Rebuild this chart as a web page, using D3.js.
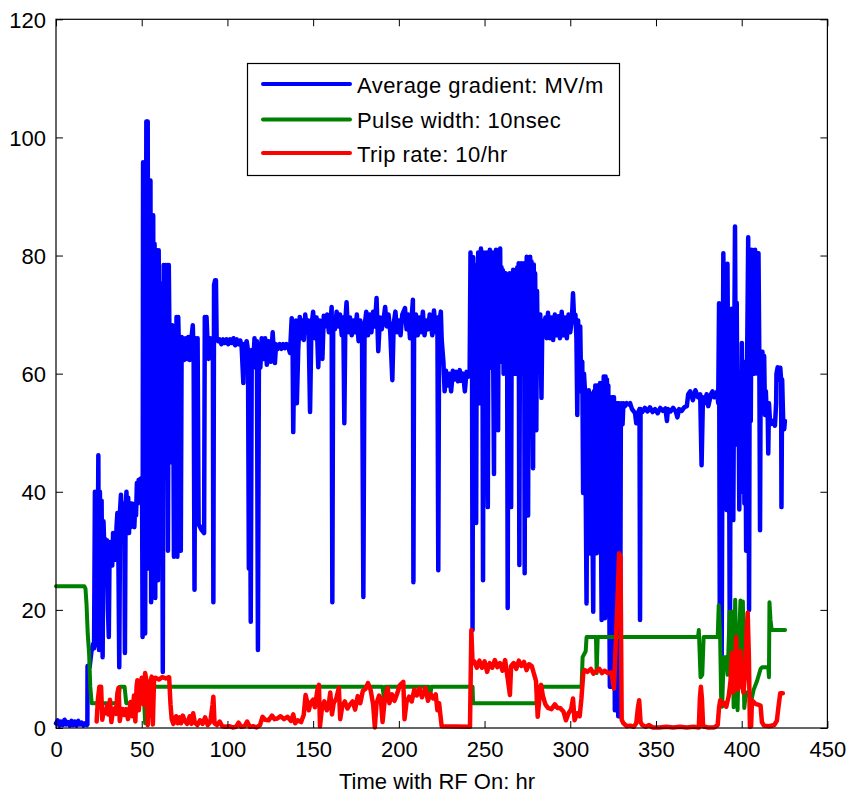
<!DOCTYPE html>
<html>
<head>
<meta charset="utf-8">
<script src="https://cdn.jsdelivr.net/npm/d3@7"></script>
<style>
  html, body { margin: 0; padding: 0; background: #fff; }
  svg { display: block; }
  text { font-family: "Liberation Sans", Arial, Helvetica, sans-serif; }
</style>
</head>
<body>
<svg id="chart" width="850" height="793"></svg>
<script>
// ---------------- data ----------------
const xTicks = [0, 50, 100, 150, 200, 250, 300, 350, 400, 450];
const yTicks = [0, 20, 40, 60, 80, 100, 120];
const xLabel = "Time with RF On: hr";
const seriesNames = ["Average gradient: MV/m", "Pulse width: 10nsec", "Trip rate: 10/hr"];
const seriesColors = ["#0000ff", "#008000", "#ff0000"];

// Average gradient [hr, MV/m]
const gradient = [
  [0,0.8],[1,1.3],[2,0.4],[3,1.1],[4,0.5],[5,1.4],[6,0.6],[7,1.0],[8,0.4],[9,1.2],[10,0.5],[11,1.1],[12,0.4],[13,1.2],[14,0.6],[15,0.9],[16,0.4],[17,0.8],[18,0.5],
  [18.3,0.6],[18.4,10.5],[19.6,10.3],[20.6,12.8],[21.6,14.2],[22.2,13.5],[22.7,40],[23.2,14],[23.7,35],[24.2,20],[24.7,46.2],[25.1,13.2],[25.6,40],[26.1,30],[26.6,38.5],[27.2,12],[27.7,35],[28.2,30.5],[28.7,32],[29.2,28],[29.7,31.8],[30.3,20],[30.8,15.4],[31.3,31.5],[31.8,29],[32.3,31],[32.8,27.5],[33.3,33],[33.8,29],[34.3,32.5],[34.8,28.5],[35.3,34],[35.8,36.4],[36.3,33],[36.9,10.3],[37.4,37],[37.9,39.5],[38.4,34],[38.9,38],[39.4,36],[39.9,33],[40.2,12.7],[40.6,37],[41.1,40],[41.6,35.5],[42.1,39],[42.6,33],[43.1,38],[43.6,34],[44.2,38],[44.7,35],[45.2,37.5],[45.7,34],[46.2,38],[46.7,36],[47.2,41.5],[47.7,38],[48.2,42],[48.7,40],[49.2,42.2],[49.7,41],[50.2,42],[50.5,15.4],
  [50.8,95.8],[51.2,40],[51.6,95.8],[52,16],[52.4,60],[52.7,102.7],[53.1,72],[53.5,102.7],[53.9,27],[54.3,92.7],[54.7,55],[55.1,92.7],[55.5,21.3],[55.9,86.8],[56.3,45],[56.7,86.8],[57.1,30],[57.5,82],[57.9,22],[58.3,77.8],[58.7,65.2],[59.1,80.9],[59.5,25],[59.9,80.9],[60.3,48],[60.7,75.3],[61.1,35],[61.5,75.3],[61.9,58.9],[62.3,9.5],[62.8,78.4],[63.3,44.8],[63.8,78.4],[64.3,55],[64.8,78.4],[65.3,30],[65.8,78.4],[66.3,62],[66.8,68.2],[67.3,45],[67.8,68.2],[68.3,63.4],[68.8,29],[69.3,63],[69.8,40],[70.3,69.6],[70.8,29],[71.3,69.6],[71.8,63],[72.3,66.2],[72.8,30],[73.3,66.2],[73.8,62.3],[74.3,66],[74.8,62.3],[75.3,63],[75.8,66],[76.5,62.5],[77.2,66.2],[78,62.3],[79,66],[79.8,68.2],[80.3,62.5],[80.8,23.4],[81.3,66],[82,62.3],[82.6,66],[83.2,34.5],[85,33.5],[86.4,33],[86.8,69.6],[87.3,67],[87.8,69.6],[88.3,66],[89,62.5],[89.8,66],[90.8,65.5],[91.5,66],[91.8,21.3],[92.2,75],[92.8,75.8],[93.3,75.8],[93.7,66],[94.5,65.5],
  [95.5,65.8],[96.5,65],[97.5,65.8],[98.5,65.2],[99.5,65.8],[100.5,65],[101.5,65.8],[102.5,65.2],[103.5,66],[104.5,64.8],[105.5,65.8],[106.5,65],[107.5,65.6],[108.3,64.5],[109.3,58.4],[109.8,65],[110.5,63],[111.2,65.5],[112,64],[112.5,27],[113,62],[113.6,18],[114.2,64],[115,61],[115.8,66],[116.5,62],[117.2,65.5],[117.8,13.2],[118.4,65],[119.2,61],[120,66],[121,62.5],[122,66],[123,61.5],[124,65.5],[125.3,62],[126.4,67],[127.2,63],[127.7,61.8],[128.4,65],[129.5,64.2],[130.5,65],[131.5,64.2],[132.5,65],[133.5,64.3],[134.5,65],[135.5,64.5],[136.5,63.5],[137.5,69.4],[138,65],[138.4,50.1],[139,65],[140,69],[140.5,55],[141.3,64],[142.2,69.6],[143,66],[143.8,69],[144.6,65.7],[145.4,70],[146.4,67],[147.3,69],[148.2,53.5],[149,68],[150,70.5],[151,66],[152,69.5],[153,61.1],[153.8,69],[154.6,67],[155.4,62.5],[156.2,69.8],[157.2,68],[158.2,70],[159.2,67],[160.2,69],[160.8,71.3],[161.2,21.3],[161.7,69],[162.7,67.5],[163.7,70.5],[164.7,68],[165.7,70],[166.7,66.5],[167.6,69.5],[168.2,51.6],[168.8,69],[169.5,72.1],[170.3,67],[171.5,69.5],[172.5,66.5],[173.5,69],[174.5,67],[175.5,70],[176.5,65.5],[177.5,69],[178.5,67.5],[179.3,22.2],[180,68],[181,70.5],[182,66.5],[183,70],[184,67],[185,70.5],[186,68],[187,72.8],[188,63.8],[189,69.5],[190,67.5],[191,69],[192,71.3],[193,68],[194,70],[195,67],[196.2,58.9],[197,68.5],[198,70.5],[199,67],[200,69],[201,66.5],[202,70],[203.6,71.1],[204.5,67.5],[205.5,70],[206.5,66],[207.5,69.5],[208.2,72.5],[208.5,24.7],[208.9,68],[210,70],[211,66.5],[212,69.5],[213,67],[214,70.5],[215,66.5],[216,69],[217,67.5],[218,70],[219.5,66.5],[220.5,70.7],[221.5,67],[222.5,69.5],[223,26.7],[223.5,68.5],[224.5,70.5],[225,65.7],[226,62],[226.7,57],[227.5,60.5],[228.5,58],[229.5,60],[230.5,57],[231.5,60.5],[232.5,59],[233.5,60.3],[234.5,58.7],[235.5,60.6],[236.5,58.8],[237.5,60],[238.5,57],[239.5,60.3],[240.5,59.5],[241.3,60],
  [241.8,80.5],[242.2,62],[242.6,79.7],[243,16.6],[243.4,79.7],[243.8,63],[244.2,78],[244.6,60],[245.1,34.7],[245.5,78.5],[245.9,62],[246.3,80.5],[246.7,65],[247.1,79],[247.5,55],[247.9,81.2],[248.3,62],[248.7,80],[249.1,25],[249.5,80.5],[249.9,64],[250.3,79],[250.7,61],[251.1,80.5],[251.5,50],[251.9,37.4],[252.3,79],[252.7,63],[253.1,81],[253.5,61],[253.9,79.5],[254.3,66],[254.7,80.5],[255.1,60],[255.5,43],[255.9,79],[256.3,64],[256.7,81],[257.1,62],[257.5,79.5],[257.9,50.4],[258.3,80],[258.7,65],[259.1,81.2],[259.5,62],[259.9,78],[260.3,67],[260.7,77.5],[261.1,60],[261.5,76.5],[261.9,64],[262.3,77],[262.7,62],[263.1,76],[263.5,20.3],[263.9,76.5],[264.3,63],[264.7,77],[265.1,61],[265.5,37.4],[265.9,76],[266.3,64],[266.7,77.6],[267.1,62],[267.5,77],[267.9,60],[268.3,77.6],[268.7,63],[269.1,78],[269.5,61],[269.9,78.7],[270.3,27.6],[270.7,78.5],[271.1,64],[271.5,78.7],[271.9,62],[272.3,78],[272.7,60],[273.1,78.7],[273.4,26.2],[273.8,78.5],[274.2,63],[274.6,79.8],[275,62],[275.4,36],[275.8,79.5],[276.2,61],[276.6,79.8],[277,64],[277.4,79],[277.8,62],[278.3,44],[278.7,78.5],[279.1,62],[279.5,77],[279.9,64],[280.2,50.4],[280.6,74],[281,65],[281.5,69.5],[282,66.5],[282.5,70],[283.2,55.9],[283.7,69],[284.5,66.5],[285.5,69.5],[286.2,66],[287,70.3],[288,66],[289,69.5],[290,65.7],[291,70],[292,66.5],[293,69.7],[294,66],[295,70.5],[296,66.5],[297,69.5],[298,66],[299,70],[300,67],[301,69.5],[301.6,73.6],[302.3,69],[303,70],[303.6,66],[304.1,53],[304.6,69],[305.2,58.7],[305.8,68],[306.4,57],[307,62],[307.5,39.8],[308,60],[308.6,57],[309.5,21.1],
  [310,56],[310.4,39.8],[310.8,57.2],[311.2,35],[311.6,56.7],[312,29.5],[312.4,56.5],[312.8,40],[313.4,19.7],[313.8,57],[314.2,30],[314.6,58],[315.4,29.6],[315.8,58],[316.2,45],[316.6,57],[317,34.7],[317.4,58.4],[317.8,38],[318.3,18.3],[318.7,58.4],[319.1,40],[319.5,59.5],[320.2,18.6],[320.6,59.5],[321,22.6],[321.4,59],[321.8,45],[322.2,58],[322.6,30],[323.1,7],[323.6,56],[324,22],[324.5,56],[325,7],[325.5,56],[326,3],[326.5,55],[327,25],[327.5,55],[328,2],[328.5,55],[329,2],[329.5,52],[330,55],[330.5,51.4],[331,55],[331.9,54.5],
  [332.9,55],[334,54.8],[334.9,55],[336,54],[337.8,53.3],[338.5,51.6],[339.7,53.5],[340.4,54],[340.7,18.3],[341,54],[342,53.5],[343.5,54.2],[345,53.6],[346.5,54.3],[348,53.5],[349.5,54],[351,53.3],[352.5,54.2],[354,53.7],[355.5,54.1],[356.4,52],[357,54],[358.5,53.6],[360,54.2],[361.5,53.6],[362.5,52.6],[363.5,54],[365,53.7],[366.5,54.3],[368,54.5],[368.8,56.5],[370,57],[371.5,55.5],[373,57.2],[374.5,56],[375.8,56.5],[376.6,44.5],[377.4,56],[378.5,55],[379.5,56.5],[380.5,54.5],[381.3,55.5],[382,56.5],[383,57],[384,56],[385,56.5],[385.8,57],
  [386.3,55],[386.8,71.9],[387.2,21.1],[387.7,60],[388.3,10],[388.8,50],[389.3,80.4],[389.8,60],[390.3,50],[390.8,67.9],[391.2,36.9],[391.7,78.6],[392.2,55],[392.7,45],[393.1,9.8],[393.6,60],[394.1,71],[394.6,45],[395.1,35.2],[395.6,62],[396.1,84.9],[396.6,55],[397.1,72],[397.6,48],[398.1,60],[398.6,37],[399.1,58],[399.6,45],[400.1,65.2],[400.6,40],[401.1,62],[401.6,38],[402.1,60],[402.6,30],[403.1,60],[403.8,83.1],[404.3,20],[404.8,80],[405.3,52],[405.8,81],[406.3,71],[406.8,80.4],[407.3,60],[407.8,81],[408.3,72],[408.8,80.4],[409.3,60],[409.8,80.4],[410.3,62],[410.7,33.5],[411.1,63],[411.6,60],[412.1,63.7],[412.6,55],[413.1,63],[413.6,53],[414.1,57],[414.6,52.9],[415.1,55],[415.5,46.5],[415.9,55],[416.5,52],[417.4,51.5],[418.4,52],[419.4,51.2],[420.1,55],[420.3,60],[421,61.1],[421.8,59],[422.5,61],[423,59],[423.2,37.4],[423.6,59],[424.2,52],[424.8,50.6],[425.2,52]
];

// Pulse width [hr, 10 nsec]
const pulseWidth = [
  [0,24],[16.5,24],[17.2,23.6],[17.8,21],[18.5,16],[19.3,12.7],[20,7],[20.8,4.2],[36.4,4.2],[37.2,7],[40,7],[41,4.2],[50,4.2],[51.5,4],[52,0.8],[53,0.8],[53.5,7],
  [190.5,7],[191.2,5.3],[192,7],[217.5,7],[218.2,5.3],[219,7],[243,7],[243.3,4.2],[280.4,4.2],[280.8,7],[306.6,7],[307.2,12],[309,13],[309.5,15.4],
  [315,15.4],[315.4,9.3],[316,15.4],[374.5,15.4],[375,16.6],[376,8.6],[377,9],[377.8,15.4],[386,15.4],
  [386.6,20.8],[387.4,16],[388,5.3],[388.6,3.6],[389.5,12],[391,12],[391.8,9],[393,19.7],[393.8,10],[394.5,19.7],[395.3,3.5],[396.2,21.7],[397,10],[397.6,3],[398.5,15],[399.3,21.6],[400,8],[400.7,21.4],[401.5,3.4],[402.5,6],[404,6],[405.5,4.5],[407,6.5],[409,8],[411,10],[412,10.3],[415.5,10.3],[415.9,8.6],[416.2,21.3],[416.8,18.3],[417.5,16.6],[425.3,16.6]
];

// Trip rate [hr, 10/hr]
const tripRate = [
  [23.7,1.1],[24.5,5],[25.3,7],[26.3,7],[27,1.4],[27.8,3],[28.8,2.5],[29.8,3.9],[30.5,2.3],[31.5,4.8],[32.3,1.0],[33,2.5],[34,3.3],[35,2.4],[35.8,5.9],[36.5,6.8],[37.2,1.2],[38,2.6],[39,3.2],[40,2.2],[41,3.2],[42,1.5],[42.8,2.8],[43.5,4.4],[44.5,2.0],[45.5,5.5],[46.3,1.1],[47,7],[47.5,8.1],[48.3,3],[49,6.5],[50,8.5],[51,4],[52,9.3],[52.8,8],[53.5,0.5],[54.3,5],[55,7.6],[55.8,8.7],[56.5,0.6],[57.2,8.4],[58,8.5],[60,8.2],[62,8.6],[64,8.4],[66,8.6],[66.8,4],[67.5,1.5],[68.5,0.7],[70,2],[71,0.8],[72,1.8],[73,0.8],[74,2.1],[75,1.3],[76.5,0.7],[78,2.0],[79,0.7],[80,2.5],[81,0.9],[82.5,0.5],[84,1.3],[85.5,0.7],[87,1.8],[88.5,0.5],[90,1],[91.3,3.9],[91.8,5.3],[92.5,0.8],[94,0.5],[95.5,1.1],[97,0.3],[99,0.2],[101,0.3],[103,0.1],[105,0.2],[106.5,0.9],[108,0.2],[110,0.3],[111.5,1.1],[113,0.2],[115,0.3],[117,0.1],[119,0.5],[120.5,1.9],[122,1.4],[124,1.3],[126,2.1],[127.5,1.5],[129,1.6],[131,2.0],[133,1.5],[135,1.9],[137,1.2],[138.4,2.3],[139.5,0.8],[141,1.3],[143,1.0],[144.5,2.2],[145.6,5.6],[146.5,4.5],[147.5,3],[148.5,4.3],[150,4.8],[151,3.5],[152.5,6.4],[153.4,7.3],[154,0.3],[155,3],[156.5,4.5],[158,3],[159,3.8],[160,6],[161,2.3],[162,4.2],[163.5,5],[165,6.8],[165.8,1.5],[167,3.7],[168.5,4.5],[170,3.3],[171.5,4.0],[173,4.5],[174.5,3.1],[176,5.4],[177.5,4.2],[179,6.3],[180.5,6.6],[182,7.6],[183.5,6.5],[185,4],[186,0.1],[187,4.2],[188.5,5.5],[189.5,4.9],[190.5,1.0],[191.5,4],[192.5,5.9],[193.5,6.8],[194.5,4.2],[196,5.7],[197.5,4.6],[199,5.8],[200.5,7.2],[202.6,7.8],[203.3,1.5],[204.5,4.4],[206,5.3],[207.5,4.5],[209,6.5],[210.5,5.5],[212,6.7],[213.5,5.2],[215.5,6.8],[217,4.6],[218.5,5.8],[220,5.0],[221.5,5.7],[222.5,3],[223.5,4.2],[224.2,2.3],[225,0.3],[241.5,0.2],
  [242.3,16.6],[243,11],[244,11.3],[245.5,10.2],[247,11.4],[248.5,10.2],[250,11.3],[251.5,9.5],[253,11.0],[254.5,10.2],[256,11.5],[257.5,10.3],[259,11],[260.5,9.7],[262,11.5],[263.5,8.4],[264.8,5.6],[265.5,10.5],[267,11],[268.5,10],[270,11.4],[271.5,10.5],[273,11.2],[274.5,9.8],[276,10.8],[277.5,10.5],[279,9],[280,8],[281,1.9],[282,5],[283,7.3],[284,5.5],[285.5,4],[287,3.4],[289,3.2],[291,4],[292.5,3.4],[294,3.4],[296,2.8],[297.5,1.3],[299,2.5],[300.5,3.2],[301.6,5],[302.5,1.3],[304,2.5],[305.5,2],[306.5,5],[307.6,9.3],[308.5,9.8],[310,9.5],[312,10],[313.5,9.2],[315,9.6],[317,10],[318.5,9.3],[320,9.7],[322,9.3],[324,9.4],[325.5,6.7],[326.5,14],[327.5,21.1],[328.5,29.6],[329.3,29],[330,1.4],[331,0.8],[333,0.3],[335,0.4],[337,0.2],[338.5,0.8],[339.5,3.5],[340.2,4.7],[341,1],[342,0.5],[344,0.2],[346,0.5],[348,0.1],[352,0.1],[356,0.2],[360,0.1],[364,0.2],[368,0.1],[372,0.2],[375,0.1],[375.6,5],[376.2,7],[376.8,5],[377.5,0.3],[380,0.1],[384,0.1],[386,0.5],[386.8,3.5],[387.5,4.7],[388.5,4],[390,4.2],[391,3.6],[392.5,5.5],[393.5,8],[394.3,12.7],[395,6],[396,10],[396.8,15.4],[397.5,6.5],[398.5,7],[399.3,13],[400,8],[401,6],[402,9],[402.8,16],[403.5,19.5],[404.2,12],[404.8,0.2],[405.5,0.3],[406,4.7],[408,4.1],[410,3.9],[411,3.8],[411.8,1.0],[413,0.4],[416,0.3],[419,0.5],[420.5,1.2],[421.5,3.7],[422.5,5.9],[424,5.9]
];

// ---------------- layout ----------------
const svg = d3.select("#chart");
const plot = { left: 56, right: 827.4, top: 19.3, bottom: 728 };
const x = d3.scaleLinear().domain([0, 450]).range([plot.left, plot.right]);
const y = d3.scaleLinear().domain([0, 120]).range([plot.bottom, plot.top]);
const fontSize = 22;

svg.append("rect").attr("width", 850).attr("height", 793).attr("fill", "#fff");

const line = d3.line().x(d => x(d[0])).y(d => y(d[1]));
const series = [gradient, pulseWidth, tripRate];
const widths = [4.5, 4, 4.5];
series.forEach((s, i) => {
  svg.append("path")
    .datum(s)
    .attr("d", line)
    .attr("fill", "none")
    .attr("stroke", seriesColors[i])
    .attr("stroke-width", widths[i])
    .attr("stroke-linejoin", "round")
    .attr("stroke-linecap", "round");
});

// axes
const tk = 7;
const gB = svg.append("g").attr("transform", `translate(0,${plot.bottom})`)
  .call(d3.axisBottom(x).tickValues(xTicks).tickSizeInner(-tk).tickSizeOuter(0).tickPadding(0).tickFormat(d3.format("d")));
gB.selectAll("text").attr("y", 29).attr("dy", null).attr("font-size", fontSize).attr("fill", "#000").attr("font-family", "Liberation Sans, Arial, sans-serif");
const gT = svg.append("g").attr("transform", `translate(0,${plot.top})`)
  .call(d3.axisTop(x).tickValues(xTicks).tickSizeInner(-tk).tickSizeOuter(0).tickFormat(""));
const gL = svg.append("g").attr("transform", `translate(${plot.left},0)`)
  .call(d3.axisLeft(y).tickValues(yTicks).tickSizeInner(-tk).tickSizeOuter(0).tickPadding(10).tickFormat(d3.format("d")));
gL.selectAll("text").attr("dy", "0.36em").attr("font-size", fontSize).attr("fill", "#000").attr("font-family", "Liberation Sans, Arial, sans-serif");
const gR = svg.append("g").attr("transform", `translate(${plot.right},0)`)
  .call(d3.axisRight(y).tickValues(yTicks).tickSizeInner(-tk).tickSizeOuter(0).tickFormat(""));
[gB, gT, gL, gR].forEach(g => {
  g.select(".domain").remove();
  g.selectAll("line").attr("stroke", "#000").attr("stroke-width", 1);
});

svg.append("rect")
  .attr("x", plot.left).attr("y", plot.top)
  .attr("width", plot.right - plot.left).attr("height", plot.bottom - plot.top)
  .attr("fill", "none").attr("stroke", "#000").attr("stroke-width", 1.2);

// x label
svg.append("text")
  .attr("x", 437).attr("y", 789)
  .attr("text-anchor", "middle")
  .attr("font-size", fontSize)
  .attr("fill", "#000")
  .text(xLabel);

// legend
const lg = svg.append("g");
lg.append("rect").attr("x", 247.5).attr("y", 63.5).attr("width", 372).attr("height", 112)
  .attr("fill", "#fff").attr("stroke", "#000").attr("stroke-width", 1.2);
const rowY = [84, 119.5, 153];
seriesNames.forEach((n, i) => {
  lg.append("line").attr("x1", 263).attr("x2", 350).attr("y1", rowY[i]).attr("y2", rowY[i])
    .attr("stroke", seriesColors[i]).attr("stroke-width", 4).attr("stroke-linecap", "round");
  lg.append("text").attr("x", 357).attr("y", rowY[i] + 8.5)
    .attr("font-size", fontSize).attr("letter-spacing", "0.45px").attr("fill", "#000").text(n);
});
</script>
</body>
</html>
